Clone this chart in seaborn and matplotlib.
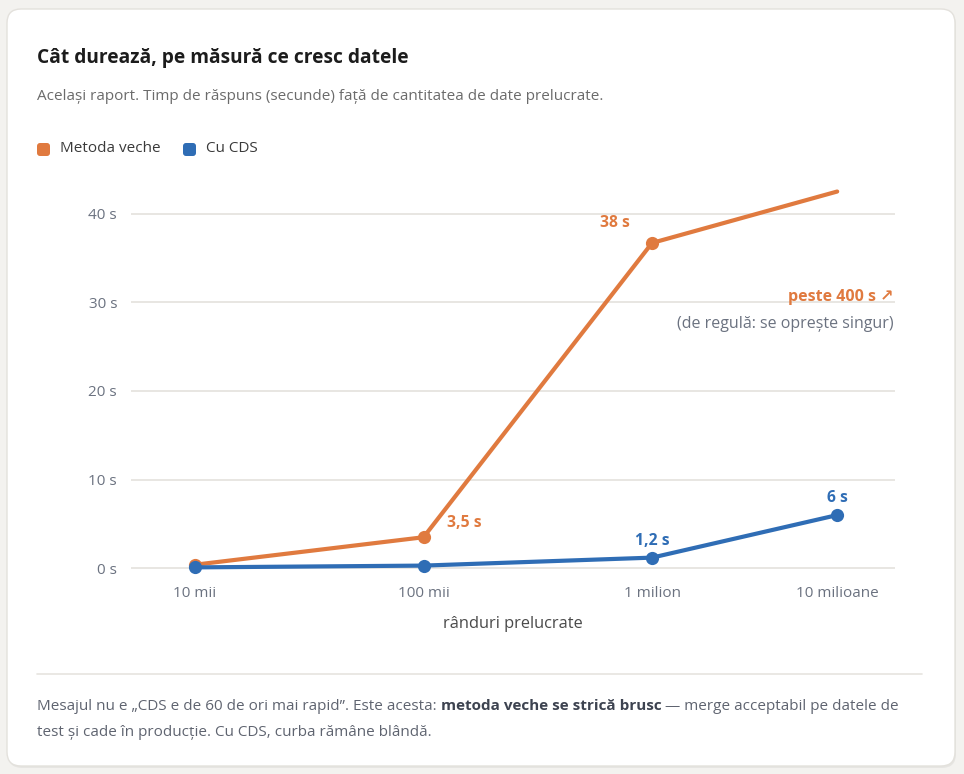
import numpy as np
import pandas as pd
import matplotlib.pyplot as plt
import seaborn as sns
from matplotlib.patches import FancyBboxPatch
from matplotlib.lines import Line2D

# Data
categories = ['10 mii', '100 mii', '1 milion', '10 milioane']
old_method = [0.4, 3.5, 36.7, 42.5]
cds_method = [0.1, 0.3, 1.2, 6.0]
old_labels = [None, '3,5 s', '38 s', None]
cds_labels = [None, None, '1,2 s', '6 s']
y_ticks = [0, 10, 20, 30, 40]
y_tick_labels = ['0 s', '10 s', '20 s', '30 s', '40 s']

# layout: x positions of the categories (last one sits closer in the reference)
x_pos = [0, 1, 2, 2.81]

ORANGE = '#e07a3f'
BLUE = '#2f6db5'
GRID = '#e6e4df'
MUTED = '#6b7280'
W, H = 964, 774

def fx(px):
    return px / W

def fy(py):
    return 1 - py / H

sns.set_theme(style='white')
plt.rcParams['font.family'] = ['Open Sans', 'DejaVu Sans']

fig = plt.figure(figsize=(W / 100, H / 100), dpi=100, facecolor='#f3f2ef')

# card with a soft shadow
shadow = FancyBboxPatch((0.08, 0.06), 9.48, 7.57, boxstyle='round,pad=0,rounding_size=0.14',
                        transform=fig.dpi_scale_trans, facecolor='#000000', alpha=0.05,
                        edgecolor='none', zorder=0)
card = FancyBboxPatch((0.07, 0.08), 9.48, 7.57, boxstyle='round,pad=0,rounding_size=0.14',
                      transform=fig.dpi_scale_trans, facecolor='white',
                      edgecolor='#e3e1dc', linewidth=1, zorder=0)
fig.add_artist(shadow)
fig.add_artist(card)

fig.text(fx(37), fy(58), 'Cât durează, pe măsură ce cresc datele', fontsize=13.8,
         fontweight='bold', color='#1c1c1c', va='center')
fig.text(fx(37), fy(96), 'Același raport. Timp de răspuns (secunde) față de cantitatea de date prelucrate.',
         fontsize=11, color='#6b6b6b', va='center')

# legend
for x0, col, lab in [(37, ORANGE, 'Metoda veche'), (183, BLUE, 'Cu CDS')]:
    sq = FancyBboxPatch((x0 / 100, (H - 156) / 100), 0.13, 0.13,
                        boxstyle='round,pad=0,rounding_size=0.03',
                        transform=fig.dpi_scale_trans, facecolor=col, edgecolor='none')
    fig.add_artist(sq)
    fig.text(fx(x0 + 23), fy(149), lab, fontsize=11, color='#3a3a3a', va='center')

ax = fig.add_axes([fx(131), 199 / H, 764 / W, 395 / H])
ax.set_facecolor('none')

df_old = pd.DataFrame({'x': x_pos, 'sec': old_method})
df_cds = pd.DataFrame({'x': x_pos, 'sec': cds_method})
sns.lineplot(data=df_old, x='x', y='sec', ax=ax, color=ORANGE, linewidth=3, marker='o',
             markersize=9.5, markeredgewidth=0, markeredgecolor=ORANGE, markevery=[0, 1, 2],
             clip_on=False, zorder=3)
sns.lineplot(data=df_cds, x='x', y='sec', ax=ax, color=BLUE, linewidth=3, marker='o',
             markersize=9.5, markeredgewidth=0, markeredgecolor=BLUE, clip_on=False, zorder=4)

ax.set_xlim(-0.28, 3.063)
ax.set_ylim(-0.76, 43.8)
ax.set_xticks(x_pos)
ax.set_xticklabels(categories)
ax.set_yticks(y_ticks)
ax.set_yticklabels(y_tick_labels)
ax.tick_params(axis='both', length=0, labelsize=11, labelcolor=MUTED)
ax.tick_params(axis='y', pad=10)
ax.tick_params(axis='x', pad=8)
for s in ax.spines.values():
    s.set_visible(False)
ax.yaxis.grid(True, color=GRID, linewidth=1.3)
ax.xaxis.grid(False)
ax.set_axisbelow(True)
ax.set_xlabel('rânduri prelucrate', fontsize=11.8, color='#4a4a4a', labelpad=11)
ax.set_ylabel('')

# value labels
offsets_old = {1: (23, 14, 'left'), 2: (-22, 20, 'right')}
for i, lab in enumerate(old_labels):
    if lab:
        dx, dy, ha = offsets_old[i]
        ax.annotate(lab, (x_pos[i], old_method[i]), xytext=(dx, dy), textcoords='offset pixels',
                    ha=ha, va='center', fontsize=11.3, fontweight='bold', color=ORANGE)
for i, lab in enumerate(cds_labels):
    if lab:
        ax.annotate(lab, (x_pos[i], cds_method[i]), xytext=(0, 17), textcoords='offset pixels',
                    ha='center', va='center', fontsize=11.3, fontweight='bold', color=BLUE)

ax.text(3.055, 30.6, 'peste 400 s ↗', ha='right', va='center', fontsize=11.5,
        fontweight='bold', color=ORANGE)
ax.text(3.055, 27.6, '(de regulă: se oprește singur)', ha='right', va='center',
        fontsize=11.5, color=MUTED)

# divider and footer
fig.add_artist(Line2D([fx(37), fx(922)], [fy(674), fy(674)], color=GRID, linewidth=1.2))

foot_col = '#5f6470'
t1 = fig.text(fx(37), fy(706), 'Mesajul nu e „CDS e de 60 de ori mai rapid”. Este acesta: ',
              fontsize=11, color=foot_col, va='center')
t2 = fig.text(0, 0, 'metoda veche se strică brusc', fontsize=11, fontweight='bold',
              color='#3d4350', va='center')
t3 = fig.text(0, 0, ' — merge acceptabil pe datele de', fontsize=11, color=foot_col, va='center')
fig.text(fx(37), fy(732), 'test și cade în producție. Cu CDS, curba rămâne blândă.',
         fontsize=11, color=foot_col, va='center')

fig.canvas.draw()
r = fig.canvas.get_renderer()
inv = fig.transFigure.inverted()
x_end = inv.transform((t1.get_window_extent(r).x1, 0))[0]
t2.set_position((x_end, fy(706)))
x_end = inv.transform((t2.get_window_extent(r).x1, 0))[0]
t3.set_position((x_end, fy(706)))

fig.savefig('out.png', dpi=100, facecolor=fig.get_facecolor())
